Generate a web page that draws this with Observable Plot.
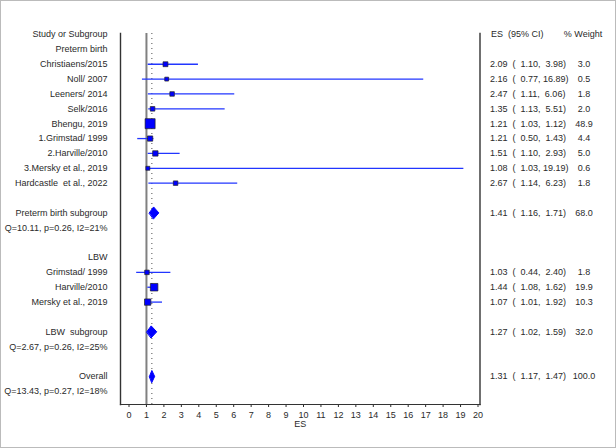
<!DOCTYPE html>
<html>
<head>
<meta charset="utf-8">
<script src="https://cdn.jsdelivr.net/npm/d3@7"></script>
<script src="https://cdn.jsdelivr.net/npm/@observablehq/plot@0.6"></script>
<style>
  html, body { margin: 0; padding: 0; background: #fff; }
  #chart svg { display: block; outline: 1px solid #bbb; outline-offset: -1px; }
  #chart svg text { white-space: pre; }
</style>
</head>
<body>
<div id="chart"></div>
<script>
// ---- data ----
const studyLabels = ["Christiaens/2015", "Noll/ 2007", "Leeners/ 2014", "Selk/2016", "Bhengu, 2019",
  "1.Grimstad/ 1999", "2.Harville/2010", "3.Mersky et al., 2019", "Hardcastle  et al., 2022",
  "Grimstad/ 1999", "Harville/2010", "Mersky et al., 2019"];
const studyRows = [2, 3, 4, 5, 6, 7, 8, 9, 10, 16, 17, 18];
const studyES = [2.09, 2.16, 2.47, 1.35, 1.21, 1.21, 1.51, 1.08, 2.67, 1.03, 1.44, 1.07];
const studyLo = [1.10, 0.77, 1.11, 1.13, 1.03, 0.50, 1.10, 1.03, 1.14, 0.44, 1.08, 1.01];
const studyHi = [3.98, 16.89, 6.06, 5.51, 1.12, 1.43, 2.93, 19.19, 6.23, 2.40, 1.62, 1.92];
const studyWeight = [3.0, 0.5, 1.8, 2.0, 48.9, 4.4, 5.0, 0.6, 1.8, 1.8, 19.9, 10.3];

const summaryLabels = ["Preterm birth subgroup", "LBW  subgroup", "Overall"];
const summaryRows = [12, 20, 23];
const summaryES = [1.41, 1.27, 1.31];
const summaryLo = [1.16, 1.02, 1.17];
const summaryHi = [1.71, 1.59, 1.47];
const summaryWeight = [68.0, 32.0, 100.0];
const hetLabels = ["Q=10.11, p=0.26, I2=21%", "Q=2.67, p=0.26, I2=25%", "Q=13.43, p=0.27, I2=18%"];
const hetRows = [13, 21, 24];

const headerLabels = ["Study or Subgroup", "Preterm birth", "LBW"];
const headerRows = [0, 1, 15];
const rightHeaders = ["ES  (95% CI)", "% Weight"];

const nullLine = 1;
const overallES = 1.31;
const xTicks = d3.range(0, 21);
const axisTitle = "ES";

// ---- derived tables ----
const pad = v => v.toFixed(2).padStart(6);
const esFmt = (e, l, h) => `${e.toFixed(2)}  (${pad(l)},${pad(h)})`;
const studies = studyLabels.map((label, i) => ({
  label, row: studyRows[i], es: studyES[i], lo: studyLo[i], hi: studyHi[i], w: studyWeight[i],
  esText: esFmt(studyES[i], studyLo[i], studyHi[i]),
  wText: studyWeight[i].toFixed(1)
}));
const summaries = summaryLabels.map((label, i) => ({
  label, row: summaryRows[i], es: summaryES[i], lo: summaryLo[i], hi: summaryHi[i], w: summaryWeight[i],
  esText: esFmt(summaryES[i], summaryLo[i], summaryHi[i]),
  wText: summaryWeight[i].toFixed(1)
}));
const hets = hetLabels.map((label, i) => ({label, row: hetRows[i]}));
const headers = headerLabels.map((label, i) => ({label, row: headerRows[i]}));
const half = 0.4;
const diamondPts = summaries.flatMap((s, g) => [
  {g, x: s.lo, y: s.row}, {g, x: s.es, y: s.row - half},
  {g, x: s.hi, y: s.row}, {g, x: s.es, y: s.row + half}
]);

const FS = 9;
const TXT = "#2a2a2a";
const chart = Plot.plot({
  width: 616,
  height: 448,
  marginLeft: 120,
  marginRight: 136.5,
  marginTop: 33,
  marginBottom: 44,
  style: {fontFamily: "'Liberation Sans', Arial, sans-serif", fontSize: "9px", color: "#2a2a2a", background: "#fff"},
  x: {domain: [0, 20], insetLeft: 8.5, insetRight: 2, ticks: xTicks, tickSize: 3, tickPadding: 4, label: null},
  y: {domain: [0, 24], reverse: true, insetTop: 1, insetBottom: 13.2, axis: null},
  r: {type: "pow", exponent: 0.5, domain: [0, 48.9], range: [1.8, 5.64]},
  marks: [
    Plot.frame({anchor: "left", stroke: "#333", strokeWidth: 1.4}),
    Plot.frame({anchor: "right", stroke: "#333", strokeWidth: 1.4}),
    Plot.frame({anchor: "bottom", stroke: "#333", strokeWidth: 1.2}),
    Plot.ruleX([nullLine], {stroke: "#808080", strokeWidth: 2}),
    Plot.ruleX([overallES], {stroke: "#222", strokeWidth: 0.8, strokeDasharray: "1,4"}),
    Plot.ruleY(studies, {y: "row", x1: "lo", x2: "hi", stroke: "#2236ff", strokeWidth: 1.3}),
    Plot.dot(studies, {x: "es", y: "row", r: "w", symbol: "square", fill: "#0000ff", stroke: "#222", strokeWidth: 0.7}),
    Plot.line(diamondPts, {x: "x", y: "y", z: "g", fill: "#0000ff", stroke: "#0000ff", strokeWidth: 1, curve: "linear-closed"}),
    // left column
    Plot.text(headers, {y: "row", text: "label", frameAnchor: "left", dx: -13, textAnchor: "end", fontSize: FS, fill: TXT}),
    Plot.text(studies, {y: "row", text: "label", frameAnchor: "left", dx: -13, textAnchor: "end", fontSize: FS, fill: TXT}),
    Plot.text(summaries, {y: "row", text: "label", frameAnchor: "left", dx: -13, textAnchor: "end", fontSize: FS, fill: TXT}),
    Plot.text(hets, {y: "row", text: "label", frameAnchor: "left", dx: -13, textAnchor: "end", fontSize: FS, fill: TXT}),
    // right columns
    Plot.text([rightHeaders[0]], {y: () => 0, text: d => d, frameAnchor: "right", dx: 11, textAnchor: "start", fontSize: FS, fill: TXT}),
    Plot.text([rightHeaders[1]], {y: () => 0, text: d => d, frameAnchor: "right", dx: 103, textAnchor: "middle", fontSize: FS, fill: TXT}),
    Plot.text(studies.concat(summaries), {y: "row", text: "esText", frameAnchor: "right", dx: 10, textAnchor: "start", fontSize: FS, fill: TXT}),
    Plot.text(studies.concat(summaries), {y: "row", text: "wText", frameAnchor: "right", dx: 104, textAnchor: "middle", fontSize: FS, fill: TXT}),
    // axis title
    Plot.text([axisTitle], {text: d => d, frameAnchor: "bottom", dy: 22, fontSize: FS, fill: TXT})
  ]
});
document.getElementById("chart").appendChild(chart);
</script>
</body>
</html>
